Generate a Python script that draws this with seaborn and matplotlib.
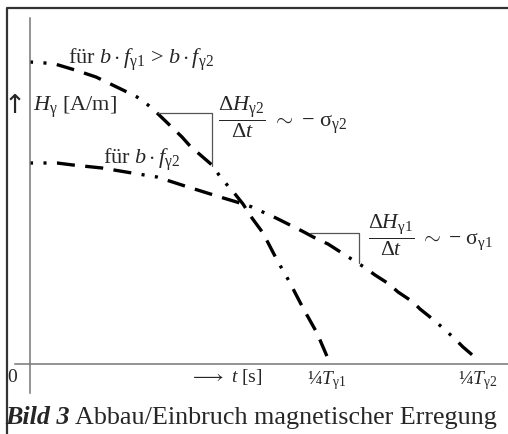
import matplotlib
matplotlib.use("Agg")
import matplotlib.pyplot as plt
import seaborn as sns
from matplotlib.lines import Line2D

# curve for b*f_gamma1 > b*f_gamma2 (steep decay)
t_g1 = [0, 15, 25, 45, 66, 97, 107, 118, 125, 152, 160, 182, 189, 198, 205, 213,
        222, 233, 247, 259, 273, 287, 299]
H_g1 = [302, 301, 300, 294, 287, 272, 267, 259, 253, 227, 218, 199, 189, 178, 170, 160,
        146, 131, 104, 83, 56, 31, 3]

# curve for b*f_gamma2 (slow decay)
t_g2 = [0, 15, 27, 43, 72, 102, 127, 158, 190, 210, 222, 235, 246, 262, 272, 287,
        298, 312, 323, 334, 345, 359, 368, 383, 390, 405, 414, 424, 433, 447]
H_g2 = [201, 201, 201, 199, 196, 191, 187, 177, 167, 161, 157, 151, 146, 138, 133, 125,
        120, 111, 104, 97, 89, 80, 72, 62, 55, 43, 35, 26, 17, 5]

# slope triangles
slope1_t = [128, 182, 182]
slope1_H = [251, 251, 198]
slope2_t = [280, 329, 329]
slope2_H = [131, 131, 101]

quarter_T = [297, 448]
quarter_labels = [r"¼$T_{\mathrm{\gamma 1}}$", r"¼$T_{\mathrm{\gamma 2}}$"]

sns.set_theme(style="white")
plt.rcParams["font.family"] = ["Liberation Serif", "DejaVu Serif"]
plt.rcParams["mathtext.fontset"] = "custom"
plt.rcParams["mathtext.rm"] = "Liberation Serif"
plt.rcParams["mathtext.it"] = "Liberation Serif:italic"
plt.rcParams["mathtext.bf"] = "Liberation Serif:bold"
plt.rcParams["lines.scale_dashes"] = False

fig = plt.figure(figsize=(5.08, 4.34), dpi=100)
ax = fig.add_axes([15 / 508, 41 / 434, 493 / 508, 375 / 434])
ax.set_xlim(-15, 478)
ax.set_ylim(-29, 346)

# dot, dot, dash, dash, dash
pattern = (0, (2.2, 7.5, 2.2, 7.5, 13, 7.5, 13, 7.5, 13, 7.5))
sns.lineplot(x=t_g1, y=H_g1, ax=ax, color="black", linewidth=2.4, linestyle=pattern)
sns.lineplot(x=t_g2, y=H_g2, ax=ax, color="black", linewidth=2.4, linestyle=pattern)
ax.plot(slope1_t, slope1_H, color="#555555", lw=0.9)
ax.plot(slope2_t, slope2_H, color="#555555", lw=0.9)

for s in ["top", "right"]:
    ax.spines[s].set_visible(False)
for s in ["left", "bottom"]:
    ax.spines[s].set_position(("data", 0))
    ax.spines[s].set_color("#777777")
    ax.spines[s].set_linewidth(1.1)
ax.set_xticks([])
ax.set_yticks([])
ax.set_xlabel("")
ax.set_ylabel("")

# labels
ax.text(-15, 258, "↑", fontsize=19, family="DejaVu Sans", ha="center", va="center")
ax.text(3, 257, r"$H_{\mathrm{\gamma}}$ [A/m]", fontsize=16, ha="left", va="center")
ax.text(38, 304, r"für $b \cdot f_{\mathrm{\gamma 1}}$ > $b \cdot f_{\mathrm{\gamma 2}}$",
        fontsize=16, ha="left", va="center")
ax.text(73, 204, r"für $b \cdot f_{\mathrm{\gamma 2}}$", fontsize=16, ha="left", va="center")
ax.text(188, 247, r"$\dfrac{\Delta H_{\mathrm{\gamma 2}}}{\Delta t}$ $\sim$ − σ$_{\mathrm{\gamma 2}}$",
        fontsize=16, ha="left", va="center")
ax.text(338, 129, r"$\dfrac{\Delta H_{\mathrm{\gamma 1}}}{\Delta t}$ $\sim$ − σ$_{\mathrm{\gamma 1}}$",
        fontsize=15.5, ha="left", va="center")

ax.text(-18, -14, "0", fontsize=14, ha="center", va="center")
ax.text(160, -13, r"$\longrightarrow$ $t$ [s]", fontsize=14, ha="left", va="center")
for xt, lab in zip(quarter_T, quarter_labels):
    ax.text(xt, -17, lab, fontsize=14, ha="center", va="center")

# caption
t1 = fig.text(5 / 508, 1 - 418 / 434, "Bild 3", fontsize=18.8, fontweight="bold",
              fontstyle="italic", ha="left", va="center")
fig.canvas.draw()
bb = t1.get_window_extent()
fig.text((bb.x1 + 5) / 508, 1 - 418 / 434, "Abbau/Einbruch magnetischer Erregung",
         fontsize=18.8, ha="left", va="center")

# frame
fig.add_artist(Line2D([7 / 508, 7 / 508, 1], [0, 1 - 8 / 434, 1 - 8 / 434],
                      transform=fig.transFigure, color="#333333", lw=1.6))

fig.savefig("out.png", dpi=100)
